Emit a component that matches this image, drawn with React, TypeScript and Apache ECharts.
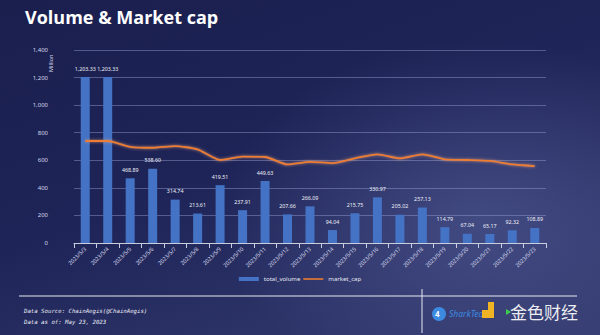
import React, { useEffect, useRef } from "react";
import * as echarts from "echarts";

const categories = [
  "2023/5/3", "2023/5/4", "2023/5/5", "2023/5/6", "2023/5/7", "2023/5/8", "2023/5/9",
  "2023/5/10", "2023/5/11", "2023/5/12", "2023/5/13", "2023/5/14", "2023/5/15", "2023/5/16",
  "2023/5/17", "2023/5/18", "2023/5/19", "2023/5/20", "2023/5/21", "2023/5/22", "2023/5/23",
];
const totalVolume = [
  1203.33, 1203.33, 468.89, 538.6, 314.74, 213.61, 419.51, 237.91, 449.63, 207.66, 266.09,
  94.04, 215.75, 330.97, 205.02, 257.13, 114.79, 67.04, 65.17, 92.32, 108.89,
];
const marketCap = [
  740, 740, 698, 691, 703, 679, 602, 626, 624, 570, 589, 580, 614, 643, 614, 643, 607, 602,
  595, 570, 558,
];
const yTicks = { min: 0, max: 1400, interval: 200 };

export default function App() {
  const ref = useRef<HTMLDivElement>(null);
  useEffect(() => {
    document.body.style.margin = "0";
    const chart = echarts.init(ref.current!, null, { renderer: "svg" });
    const fmt = (v: number) =>
      v.toLocaleString("en-US", { minimumFractionDigits: 2, maximumFractionDigits: 2 });
    chart.setOption({
      animation: false,
      backgroundColor: "transparent",
      textStyle: { fontFamily: "Noto Sans" },
      grid: { left: 74, right: 54, top: 50, bottom: 92 },
      legend: {
        bottom: 48,
        left: "center",
        itemWidth: 20,
        itemHeight: 4,
        itemGap: 3,
        textStyle: { color: "#e6e8f2", fontSize: 6 },
        data: [
          { name: "total_volume", icon: "rect" },
          { name: "market_cap", icon: "path://M0,0 L20,0 L20,1.6 L0,1.6 Z" },
        ],
      },
      xAxis: {
        type: "category",
        data: categories,
        axisLine: { lineStyle: { color: "#c9cde0", width: 1 } },
        axisTick: { show: true, lineStyle: { color: "#c9cde0" } },
        axisLabel: { color: "#d4d7ea", fontSize: 5.5, rotate: 45, margin: 5, interval: 0 },
      },
      yAxis: {
        type: "value",
        min: yTicks.min,
        max: yTicks.max,
        interval: yTicks.interval,
        axisLabel: {
          color: "#d4d7ea",
          fontSize: 6,
          margin: 26,
          align: "right",
          formatter: (v: number) => v.toLocaleString("en-US"),
        },
        splitLine: { lineStyle: { color: "rgba(150,160,210,0.45)", width: 1 } },
        axisLine: { show: false },
      },
      series: [
        {
          name: "total_volume",
          type: "bar",
          data: totalVolume,
          barWidth: 9,
          itemStyle: { color: "#4472c4" },
          label: {
            show: true,
            position: "top",
            distance: 6,
            color: "#eef0f8",
            fontSize: 5.3,
            formatter: (p: any) => fmt(p.value),
          },
        },
        {
          name: "market_cap",
          type: "line",
          data: marketCap,
          smooth: 0.2,
          symbol: "none",
          lineStyle: {
            color: "#ed7d31",
            width: 1.8,
            shadowColor: "rgba(255,170,120,0.7)",
            shadowBlur: 3,
          },
          itemStyle: { color: "#ed7d31" },
        },
      ],
      graphic: [
        {
          type: "text",
          left: 25,
          top: 8,
          style: {
            text: "Volume & Market cap",
            fill: "#ffffff",
            font: "bold 18px 'Open Sans', 'Noto Sans', sans-serif",
          },
        },
        {
          type: "text",
          x: 48,
          y: 72,
          rotation: Math.PI / 2,
          style: { text: "Million", fill: "#d4d7ea", font: "5.5px 'Noto Sans'" },
        },
        {
          type: "line",
          shape: { x1: 19, y1: 296, x2: 577, y2: 296 },
          style: { stroke: "#e8eaf4", lineWidth: 1 },
        },
        {
          type: "line",
          shape: { x1: 422, y1: 289, x2: 422, y2: 333 },
          style: { stroke: "#e8eaf4", lineWidth: 1 },
        },
        {
          type: "text",
          x: 24,
          y: 308,
          style: {
            text: "Data Source: ChainAegis(@ChainAegis)",
            fill: "#e8eaf4",
            font: "italic 5.7px 'DejaVu Sans Mono', monospace",
          },
        },
        {
          type: "text",
          x: 24,
          y: 319,
          style: {
            text: "Data as of: May 23, 2023",
            fill: "#e8eaf4",
            font: "italic 5.7px 'DejaVu Sans Mono', monospace",
          },
        },
        {
          type: "circle",
          shape: { cx: 439, cy: 314, r: 7 },
          style: { fill: "#3d8be0" },
        },
        {
          type: "text",
          x: 435,
          y: 309,
          style: { text: "4", fill: "#ffffff", font: "bold 8px 'Noto Sans'" },
        },
        {
          type: "text",
          x: 449,
          y: 309,
          style: { text: "SharkTeam", fill: "#3d8be0", font: "italic 8.5px 'Noto Sans'" },
        },
        {
          type: "rect",
          shape: { x: 482, y: 310, width: 12, height: 8 },
          style: { fill: "#f0b323" },
        },
        {
          type: "rect",
          shape: { x: 488, y: 302, width: 6, height: 8 },
          style: { fill: "#f0b323" },
        },
        {
          type: "polygon",
          shape: { points: [[506, 309], [511, 312], [506, 315]] },
          style: { fill: "#3ccf4e" },
        },
        {
          type: "text",
          x: 510,
          y: 303,
          style: {
            text: "金色财经",
            fill: "rgba(255,255,255,0.92)",
            font: "17px 'Noto Sans CJK SC'",
          },
        },
      ],
    });
    return () => chart.dispose();
  }, []);
  return (
    <div
      style={{
        position: "fixed",
        left: 0,
        top: 0,
        width: 600,
        height: 335,
        background:
          "radial-gradient(ellipse 260px 180px at 480px 220px, rgba(90,100,160,0.5), rgba(90,100,160,0) 100%), linear-gradient(160deg, #1a1f4e 0%, #1e2457 45%, #2b3266 75%, #333a6e 100%)",
      }}
    >
      <div ref={ref} style={{ width: 600, height: 335 }} />
    </div>
  );
}
